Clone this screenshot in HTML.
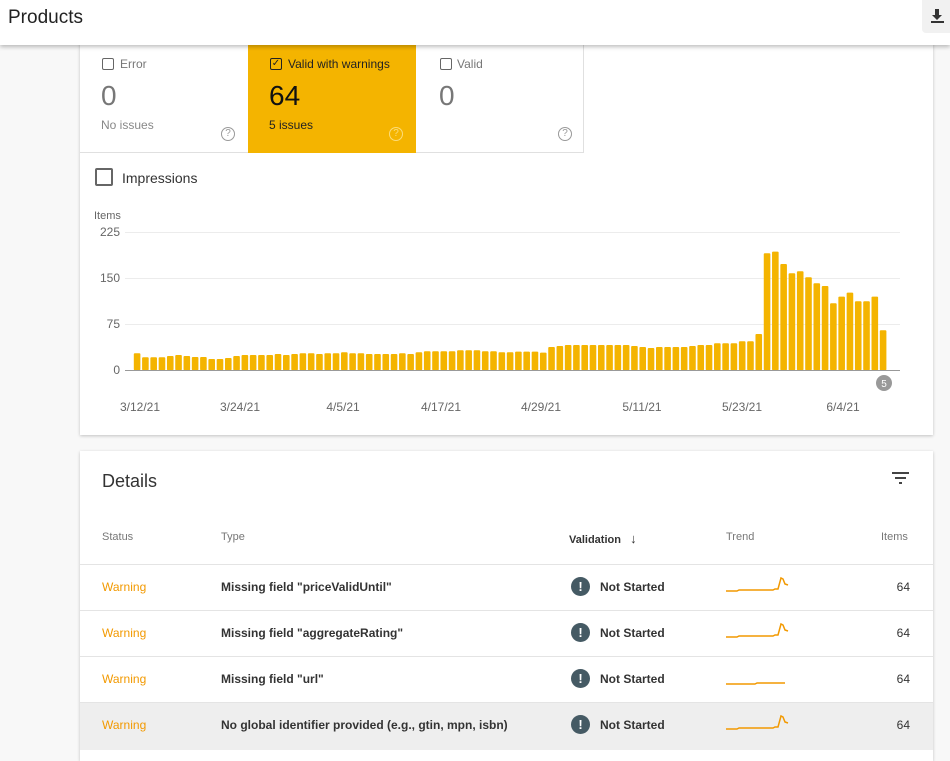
<!DOCTYPE html>
<html><head><meta charset="utf-8">
<style>
*{margin:0;padding:0;box-sizing:border-box}
body{width:950px;height:750px;overflow:hidden;background:#f8f8f8;font-family:"Liberation Sans",Arial,sans-serif;position:relative;color:#222}
.abs{position:absolute}
.hdr{left:0;top:0;width:950px;height:45px;background:#fff;box-shadow:0 2px 4px rgba(0,0,0,.25);z-index:5}
.card{background:#fff;box-shadow:0 1px 3px rgba(0,0,0,.22)}
.cb{width:12px;height:12px;border:1.5px solid #666;border-radius:2px}
.q{width:14px;height:14px;border:1.3px solid #999;border-radius:50%;font-size:10px;color:#999;text-align:center;line-height:12px}
.t{font-size:12px}
.row{left:80px;width:853px;height:46px;border-top:1px solid #e4e4e4}
.warn{position:absolute;left:22px;top:15px;color:#f29900;font-size:12px}
.type{position:absolute;left:141px;top:15px;font-size:12px;font-weight:bold;color:#333}
.ic{position:absolute;left:491px;top:12px;width:19px;height:19px;border-radius:50%;background:#455a64;color:#fff;font-size:13px;font-weight:bold;text-align:center;line-height:19px}
.ns{position:absolute;left:520px;top:15px;font-size:12px;font-weight:bold;color:#333}
.num{position:absolute;right:23px;top:15px;font-size:12px;color:#333}
.sp{position:absolute;left:645px;top:5px}
</style></head><body>
<div class="abs hdr">
  <div class="abs" style="left:8px;top:7px;font-size:19px;color:#222">Products</div>
  <div class="abs" style="left:922px;top:0;width:28px;height:33px;background:#f1f1f1;border-radius:0 0 0 4px">
    <svg class="abs" style="left:8px;top:8px" width="16" height="16" viewBox="0 0 16 16"><path d="M5 1h4v6h3l-5 5-5-5h3z" fill="#333"/><rect x="1" y="13" width="13" height="2" fill="#333"/></svg>
  </div>
</div>
<div class="abs" style="left:922px;top:45px;width:1px;height:20px;background:#e0e0e0"></div>

<div class="abs card" style="left:80px;top:40px;width:853px;height:395px"></div>
<div class="abs" style="left:80px;top:45px;width:504px;height:108px;border-right:1px solid #e0e0e0;border-bottom:1px solid #e0e0e0"></div>
<div class="abs" style="left:248px;top:45px;width:168px;height:108px;background:#f4b400"></div>
<div class="abs cb" style="left:102px;top:58px"></div><div class="abs t" style="left:120px;top:57px;color:#777">Error</div>
<div class="abs" style="left:101px;top:80px;font-size:28px;color:#777">0</div>
<div class="abs t" style="left:101px;top:118px;color:#888">No issues</div>
<div class="abs q" style="left:221px;top:127px">?</div>
<div class="abs cb" style="left:270px;top:58px;border-color:#222;font-size:10px;line-height:9px;text-align:center;color:#222">✓</div><div class="abs t" style="left:288px;top:57px;color:#222">Valid with warnings</div>
<div class="abs" style="left:269px;top:80px;font-size:28px;color:#111">64</div>
<div class="abs t" style="left:269px;top:118px;color:#222">5 issues</div>
<div class="abs q" style="left:389px;top:127px;border-color:#fbdc7a;color:#fbdc7a">?</div>
<div class="abs cb" style="left:440px;top:58px"></div><div class="abs t" style="left:457px;top:57px;color:#777">Valid</div>
<div class="abs" style="left:439px;top:80px;font-size:28px;color:#777">0</div>
<div class="abs q" style="left:558px;top:127px">?</div>
<div class="abs" style="left:95px;top:168px;width:18px;height:18px;border:2px solid #666;border-radius:2px"></div>
<div class="abs" style="left:122px;top:170px;font-size:14px;color:#333">Impressions</div>

<svg class="abs" style="left:0;top:0" width="950" height="440">
<g font-size="12" fill="#666" font-family="Liberation Sans,Arial,sans-serif">
<text x="94" y="219" font-size="11">Items</text>
<text x="120" y="236" text-anchor="end">225</text>
<text x="120" y="282" text-anchor="end">150</text>
<text x="120" y="328" text-anchor="end">75</text>
<text x="120" y="374" text-anchor="end">0</text>
<g text-anchor="middle">
<text x="140" y="411">3/12/21</text><text x="240" y="411">3/24/21</text><text x="343" y="411">4/5/21</text>
<text x="441" y="411">4/17/21</text><text x="541" y="411">4/29/21</text><text x="642" y="411">5/11/21</text>
<text x="742" y="411">5/23/21</text><text x="843" y="411">6/4/21</text></g></g>
<g stroke="#ececec" stroke-width="1"><line x1="125" x2="900" y1="232.5" y2="232.5"/><line x1="125" x2="900" y1="278.5" y2="278.5"/><line x1="125" x2="900" y1="324.5" y2="324.5"/></g>
<g id="bars" fill="#f4b400"></g>
<line x1="125" x2="900" y1="370.5" y2="370.5" stroke="#999"/>
<circle cx="884" cy="383" r="8" fill="#999"/><text x="884" y="387" font-size="10" fill="#fff" text-anchor="middle" font-family="Liberation Sans,Arial,sans-serif">5</text>
</svg>

<div class="abs card" style="left:80px;top:451px;width:853px;height:310px"></div>
<div class="abs" style="left:102px;top:471px;font-size:18px;color:#333">Details</div>
<svg class="abs" style="left:891px;top:471px" width="20" height="14"><rect x="1" y="1" width="17" height="2" fill="#444"/><rect x="4" y="6" width="11" height="2" fill="#444"/><rect x="8" y="11" width="3" height="2" fill="#444"/></svg>
<div class="abs t" style="left:102px;top:531px;color:#777;font-size:11px">Status</div>
<div class="abs t" style="left:221px;top:531px;color:#777;font-size:11px">Type</div>
<div class="abs t" style="left:569px;top:531px;color:#333;font-size:11px;font-weight:bold">Validation &nbsp;&nbsp;<span style="font-weight:normal;font-size:13px">↓</span></div>
<div class="abs t" style="left:726px;top:531px;color:#777;font-size:11px">Trend</div>
<div class="abs t" style="left:881px;top:531px;color:#777;font-size:11px">Items</div>

<div class="abs row" style="top:564px"><span class="warn">Warning</span><span class="type">Missing field "priceValidUntil"</span><span class="ic">!</span><span class="ns">Not Started</span>
<svg class="sp" width="70" height="30"><polyline points="1,21 12,21 14,20 48,20 50,19 53,19 56,8 58,9 60,14 63,15" fill="none" stroke="#f29900" stroke-width="1.5"/></svg><span class="num">64</span></div>
<div class="abs row" style="top:610px"><span class="warn">Warning</span><span class="type">Missing field "aggregateRating"</span><span class="ic">!</span><span class="ns">Not Started</span>
<svg class="sp" width="70" height="30"><polyline points="1,21 12,21 14,20 48,20 50,19 53,19 56,8 58,9 60,14 63,15" fill="none" stroke="#f29900" stroke-width="1.5"/></svg><span class="num">64</span></div>
<div class="abs row" style="top:656px"><span class="warn">Warning</span><span class="type">Missing field "url"</span><span class="ic">!</span><span class="ns">Not Started</span>
<svg class="sp" width="70" height="30"><polyline points="1,22 30,22 32,21 60,21" fill="none" stroke="#f29900" stroke-width="1.5"/></svg><span class="num">64</span></div>
<div class="abs row" style="top:702px;height:48px;background:#eeeeee"><span class="warn">Warning</span><span class="type">No global identifier provided (e.g., gtin, mpn, isbn)</span><span class="ic">!</span><span class="ns">Not Started</span>
<svg class="sp" width="70" height="30"><polyline points="1,21 12,21 14,20 48,20 50,19 53,19 56,8 58,9 60,14 63,15" fill="none" stroke="#f29900" stroke-width="1.5"/></svg><span class="num">64</span></div>

<script>
var tops=[460,472,472,472,468,465,468,471,471,477,477,474,468,465,465,465,465,462,465,462,460,460,462,460,460,457,460,460,462,462,462,462,460,462,457,454,454,454,454,451,451,451,454,454,457,457,
455,455,455,458,441,438,435,435,435,435,435,435,435,435,438,441,444,441,441,441,441,438,435,435,430,430,430,424,424,402,160,155,192,220,214,232,250,258,310,290,278,304,304,290,391];
var g=document.getElementById('bars'),s='',n=tops.length,p=(883-137)/(n-1);
for(var i=0;i<n;i++){var h=(511-tops[i])/3;var x=137+i*p-3.2;s+='<rect x="'+x.toFixed(2)+'" y="'+(370.3-h).toFixed(2)+'" width="6.6" height="'+h.toFixed(2)+'" rx="1"/>';}
g.innerHTML=s;
</script>
</body></html>
